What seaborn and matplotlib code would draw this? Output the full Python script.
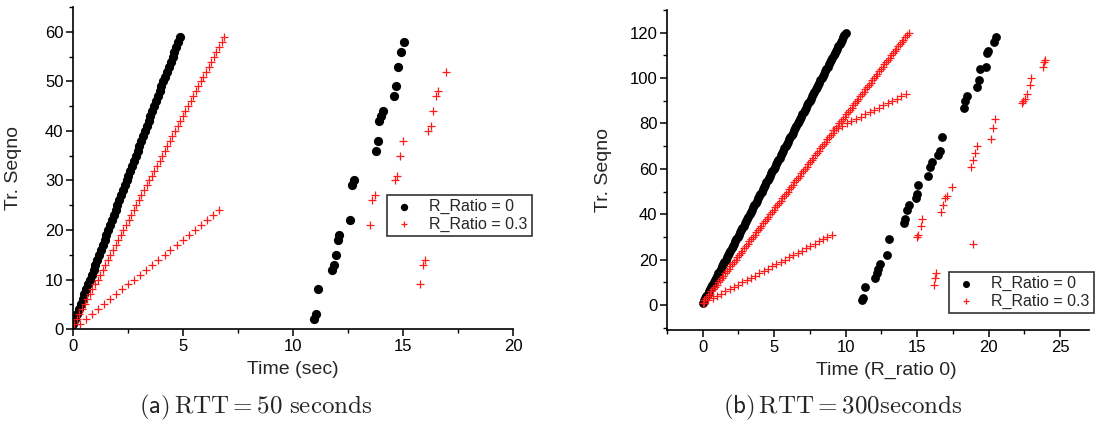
"""
Transmission sequence number vs time, two RTT settings
"""

import matplotlib
matplotlib.use("Agg")
import matplotlib.pyplot as plt
import seaborn as sns
import pandas as pd
from matplotlib.ticker import MultipleLocator

# ---------------- data: panel (a), RTT = 50 s ----------------
a_r0_seq = list(range(1, 60)) + [2, 3, 8, 12, 13, 15, 18, 19, 22, 29, 30, 36, 38, 42, 43, 44, 47, 49, 53, 56, 58]
a_r0_time = [0.00, 0.08, 0.17, 0.25, 0.33, 0.42, 0.50, 0.59, 0.67, 0.75,
             0.84, 0.92, 1.00, 1.09, 1.17, 1.25, 1.34, 1.42, 1.51, 1.59,
             1.67, 1.76, 1.84, 1.92, 2.01, 2.09, 2.17, 2.26, 2.34, 2.42,
             2.51, 2.59, 2.68, 2.76, 2.84, 2.93, 3.01, 3.09, 3.18, 3.26,
             3.34, 3.43, 3.51, 3.60, 3.68, 3.76, 3.85, 3.93, 4.01, 4.10,
             4.18, 4.26, 4.35, 4.43, 4.52, 4.60, 4.68, 4.77, 4.85,
             10.93, 11.02, 11.11, 11.75, 11.84, 11.93, 12.02, 12.09, 12.59, 12.68,
             12.77, 13.76, 13.84, 13.91, 13.99, 14.09, 14.58, 14.67, 14.75, 14.91, 15.02]

a_r3_seq = list(range(1, 60)) + list(range(1, 25)) + [9, 13, 14, 21, 26, 27, 30, 31, 35, 38, 40, 41, 44, 47, 48, 52]
a_r3_time = [0.05, 0.17, 0.28, 0.40, 0.52, 0.64, 0.75, 0.87, 0.99, 1.11,
             1.22, 1.34, 1.46, 1.58, 1.69, 1.81, 1.93, 2.05, 2.16, 2.28,
             2.40, 2.52, 2.63, 2.75, 2.87, 2.99, 3.10, 3.22, 3.34, 3.46,
             3.57, 3.69, 3.81, 3.93, 4.04, 4.16, 4.28, 4.40, 4.51, 4.63,
             4.75, 4.87, 4.98, 5.10, 5.22, 5.34, 5.45, 5.57, 5.69, 5.81,
             5.92, 6.04, 6.16, 6.28, 6.39, 6.51, 6.63, 6.75, 6.86,
             0.30, 0.57, 0.85, 1.12, 1.40, 1.67, 1.95, 2.22, 2.50, 2.77,
             3.05, 3.32, 3.60, 3.87, 4.15, 4.42, 4.70, 4.97, 5.25, 5.52,
             5.80, 6.07, 6.35, 6.62,
             15.76, 15.90, 16.00, 13.47, 13.58, 13.70, 14.62, 14.71, 14.86, 15.00,
             16.11, 16.26, 16.36, 16.50, 16.56, 16.93]

# ---------------- data: panel (b), RTT = 300 s ----------------
b_r0_seq = list(range(1, 121)) + [2, 3, 8, 12, 14, 16, 18, 22, 29, 36, 38, 42, 44, 47, 49, 53, 57,
                                  61, 63, 66, 68, 74, 87, 90, 92, 96, 99, 104, 105, 111, 112, 116, 118]
b_r0_time = [0.00, 0.08, 0.17, 0.25, 0.34, 0.42, 0.50, 0.59, 0.67, 0.76,
             0.84, 0.92, 1.01, 1.09, 1.18, 1.26, 1.34, 1.43, 1.51, 1.60,
             1.68, 1.76, 1.85, 1.93, 2.02, 2.10, 2.18, 2.27, 2.35, 2.44,
             2.52, 2.60, 2.69, 2.77, 2.86, 2.94, 3.02, 3.11, 3.19, 3.28,
             3.36, 3.44, 3.53, 3.61, 3.70, 3.78, 3.86, 3.95, 4.03, 4.12,
             4.20, 4.28, 4.37, 4.45, 4.54, 4.62, 4.70, 4.79, 4.87, 4.96,
             5.04, 5.12, 5.21, 5.29, 5.38, 5.46, 5.54, 5.63, 5.71, 5.80,
             5.88, 5.96, 6.05, 6.13, 6.22, 6.30, 6.38, 6.47, 6.55, 6.64,
             6.72, 6.80, 6.89, 6.97, 7.06, 7.14, 7.22, 7.31, 7.39, 7.48,
             7.56, 7.64, 7.73, 7.81, 7.90, 7.98, 8.06, 8.15, 8.23, 8.32,
             8.40, 8.48, 8.57, 8.65, 8.74, 8.82, 8.90, 8.99, 9.07, 9.16,
             9.24, 9.32, 9.41, 9.49, 9.58, 9.66, 9.74, 9.83, 9.91, 10.00,
             11.16, 11.23, 11.35, 12.05, 12.17, 12.28, 12.40, 12.87, 13.05, 14.08,
             14.15, 14.31, 14.43, 14.92, 14.97, 15.08, 15.78, 15.90, 16.01, 16.48,
             16.59, 16.71, 18.27, 18.34, 18.46, 19.20, 19.32, 19.39, 19.81, 19.86,
             19.97, 20.39, 20.51]

b_r3_seq = (list(range(1, 121)) + list(range(77, 94)) + list(range(1, 32))
            + [9, 12, 14, 27, 30, 31, 35, 38, 41, 44, 47, 48, 52, 61, 64, 67, 70,
               73, 78, 82, 89, 90, 91, 93, 97, 100, 105, 107, 108])
b_r3_time = [0.00, 0.12, 0.24, 0.36, 0.48, 0.61, 0.73, 0.85, 0.97, 1.09,
             1.21, 1.33, 1.45, 1.57, 1.69, 1.82, 1.94, 2.06, 2.18, 2.30,
             2.42, 2.54, 2.66, 2.78, 2.90, 3.03, 3.15, 3.27, 3.39, 3.51,
             3.63, 3.75, 3.87, 3.99, 4.11, 4.24, 4.36, 4.48, 4.60, 4.72,
             4.84, 4.96, 5.08, 5.20, 5.32, 5.45, 5.57, 5.69, 5.81, 5.93,
             6.05, 6.17, 6.29, 6.41, 6.53, 6.66, 6.78, 6.90, 7.02, 7.14,
             7.26, 7.38, 7.50, 7.62, 7.74, 7.87, 7.99, 8.11, 8.23, 8.35,
             8.47, 8.59, 8.71, 8.83, 8.95, 9.08, 9.20, 9.32, 9.44, 9.56,
             9.68, 9.80, 9.92, 10.04, 10.16, 10.29, 10.41, 10.53, 10.65, 10.77,
             10.89, 11.01, 11.13, 11.25, 11.37, 11.50, 11.62, 11.74, 11.86, 11.98,
             12.10, 12.22, 12.34, 12.46, 12.58, 12.71, 12.83, 12.95, 13.07, 13.19,
             13.31, 13.43, 13.55, 13.67, 13.79, 13.92, 14.04, 14.16, 14.28, 14.40,
             9.13, 9.45, 9.77, 10.08, 10.40, 10.72, 11.04, 11.36, 11.67, 11.99,
             12.31, 12.63, 12.95, 13.27, 13.58, 13.90, 14.22,
             0.10, 0.40, 0.69, 0.99, 1.29, 1.59, 1.88, 2.18, 2.48, 2.78,
             3.07, 3.37, 3.67, 3.97, 4.26, 4.56, 4.86, 5.15, 5.45, 5.75,
             6.05, 6.34, 6.64, 6.94, 7.24, 7.53, 7.83, 8.13, 8.43, 8.72, 9.02,
             16.18, 16.25, 16.34, 18.92, 14.96, 15.08, 15.24, 15.36, 16.64, 16.78,
             16.94, 17.06, 17.45, 18.74, 18.88, 19.04, 19.16, 20.17, 20.32, 20.44,
             22.31, 22.42, 22.54, 22.66, 22.90, 22.94, 23.80, 23.85, 23.95]

labels = ["R_Ratio = 0", "R_Ratio = 0.3"]
captions = [r"$(\mathsf{a})\,\mathrm{RTT} = 50\ \mathrm{seconds}$",
            r"$(\mathsf{b})\,\mathrm{RTT} = 300\mathrm{seconds}$"]

sns.set_style("white")
plt.rcParams["font.family"] = ["Liberation Sans", "DejaVu Sans"]
plt.rcParams["mathtext.fontset"] = "cm"

RED = "#ff1a1a"


def draw_panel(ax, t0, s0, t3, s3, dot_size):
    df0 = pd.DataFrame({"time": t0, "seq": s0})
    df3 = pd.DataFrame({"time": t3, "seq": s3})
    sns.scatterplot(data=df0, x="time", y="seq", ax=ax, color="black", marker="o",
                    s=dot_size, linewidth=0, label=labels[0])
    sns.scatterplot(data=df3, x="time", y="seq", ax=ax, color=RED, marker="+",
                    s=26, linewidth=0.9, label=labels[1])
    sns.despine(ax=ax)
    for side in ["left", "bottom"]:
        ax.spines[side].set_linewidth(1.2)
        ax.spines[side].set_color("black")
    ax.tick_params(which="both", bottom=True, left=True, colors="black")
    ax.tick_params(which="major", direction="out", length=5, width=1.1, labelsize=12,
                   pad=2)
    ax.tick_params(which="minor", direction="out", length=3, width=1.0)


fig = plt.figure(figsize=(10.97, 4.24), dpi=100)
ax1 = fig.add_axes([0.0668, 0.224, 0.401, 0.759])
ax2 = fig.add_axes([0.608, 0.2217, 0.3845, 0.7547])

draw_panel(ax1, a_r0_time, a_r0_seq, a_r3_time, a_r3_seq, 44)
ax1.set_xlim(0, 20)
ax1.set_ylim(0, 65)
ax1.xaxis.set_major_locator(MultipleLocator(5))
ax1.xaxis.set_minor_locator(MultipleLocator(2.5))
ax1.yaxis.set_major_locator(MultipleLocator(10))
ax1.yaxis.set_minor_locator(MultipleLocator(5))
ax1.set_xlabel("Time (sec)", fontsize=14)
ax1.set_ylabel("Tr. Seqno", fontsize=14)
ax1.xaxis.set_label_coords(0.5, -0.10)
ax1.yaxis.set_label_coords(-0.117, 0.5)

draw_panel(ax2, b_r0_time, b_r0_seq, b_r3_time, b_r3_seq, 40)
ax2.set_xlim(-2.5, 27)
ax2.set_ylim(-11, 130)
ax2.xaxis.set_major_locator(MultipleLocator(5))
ax2.xaxis.set_minor_locator(MultipleLocator(2.5))
ax2.yaxis.set_major_locator(MultipleLocator(20))
ax2.yaxis.set_minor_locator(MultipleLocator(10))
ax2.set_xlabel("Time (R_ratio 0)", fontsize=14)
ax2.set_ylabel("Tr. Seqno", fontsize=14)
ax2.xaxis.set_label_coords(0.521, -0.10)
ax2.yaxis.set_label_coords(-0.13, 0.5)

for ax, x0, y0 in [(ax1, 387, 195), (ax2, 949, 272)]:
    leg = ax.legend(loc="upper left", bbox_to_anchor=(x0 / 1097, 1 - y0 / 424),
                    bbox_transform=fig.transFigure, fontsize=11.5, frameon=True,
                    fancybox=False, borderpad=0.25, labelspacing=0.15,
                    handletextpad=0.8, handlelength=1.6, borderaxespad=0,
                    markerscale=0.8)
    leg.get_frame().set_edgecolor("black")
    leg.get_frame().set_linewidth(1.2)

fig.text(256 / 1097, 0.04, captions[0], ha="center", va="center", fontsize=18)
fig.text(843 / 1097, 0.04, captions[1], ha="center", va="center", fontsize=18)

fig.savefig("out.png", dpi=100)
